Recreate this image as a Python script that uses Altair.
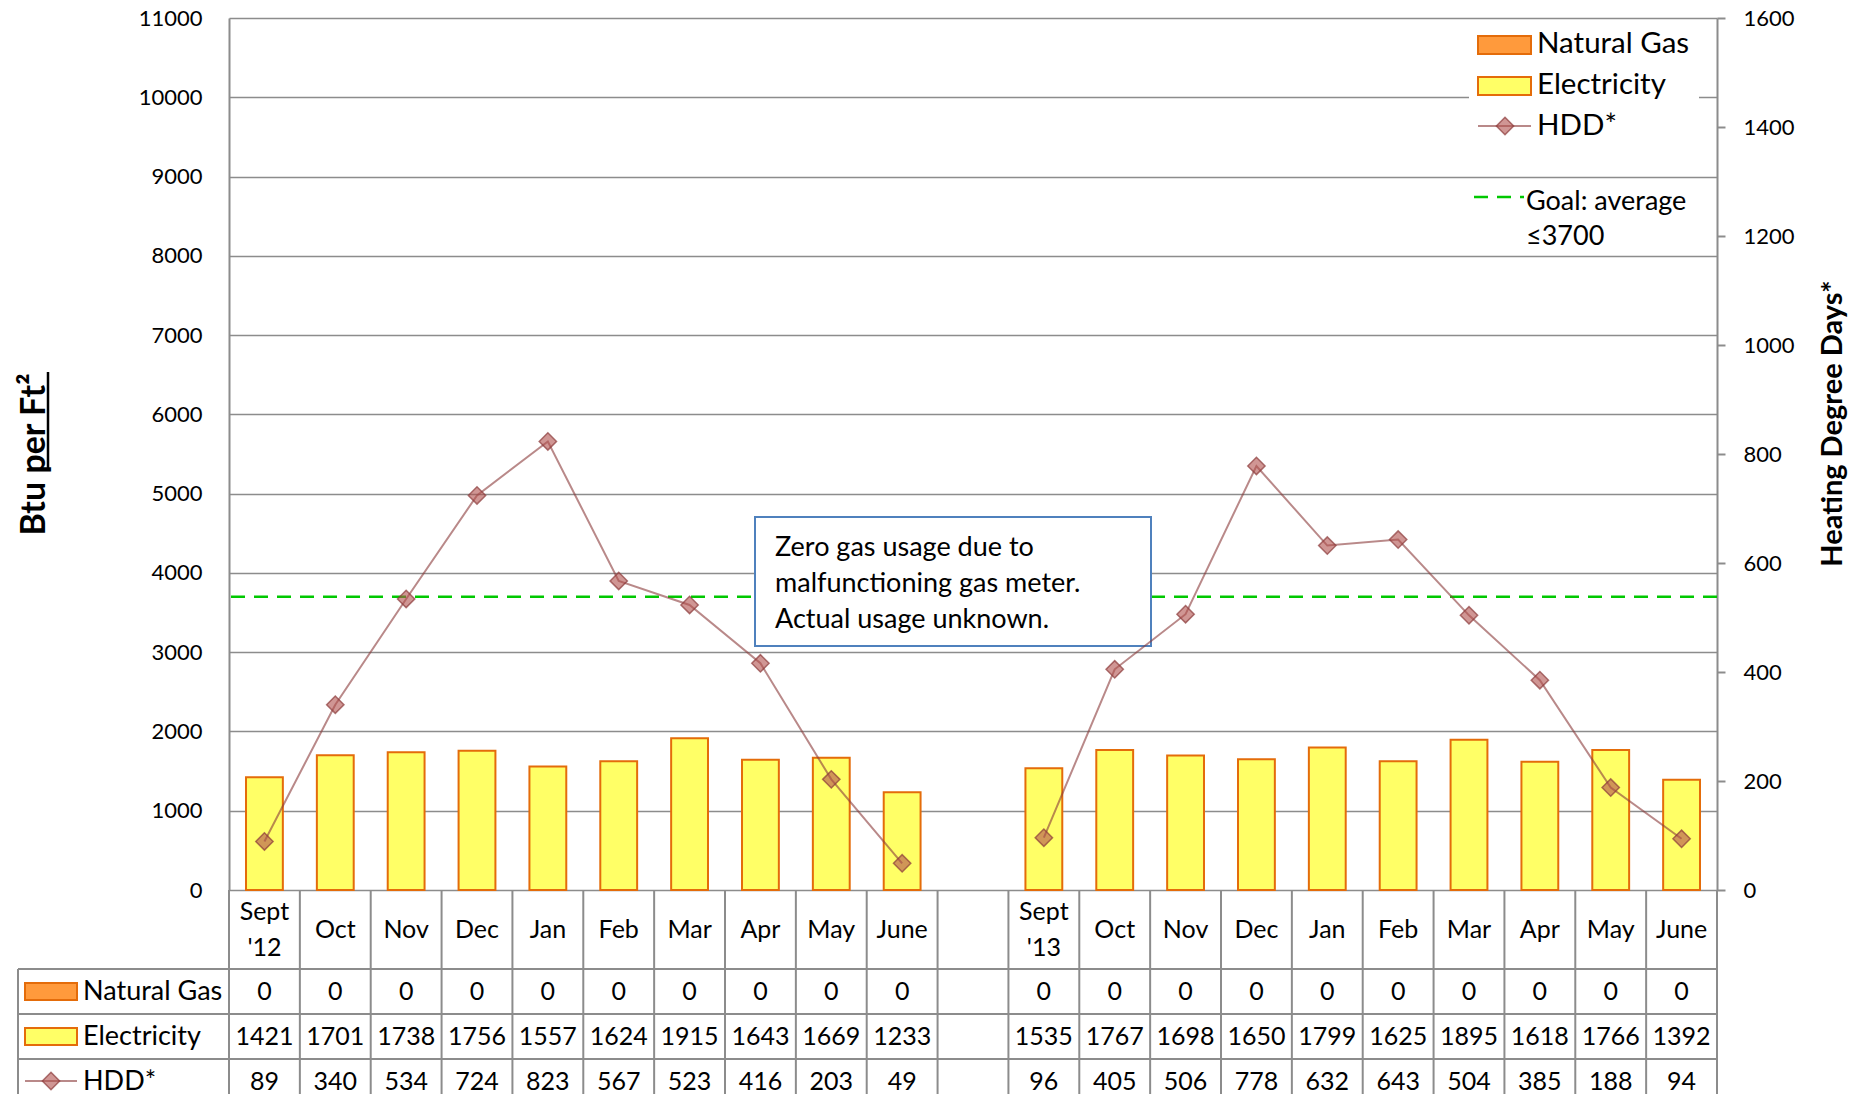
import altair as alt
import pandas as pd

# ---------------- data ----------------
labels_2012 = ["Sept\n'12", "Oct", "Nov", "Dec", "Jan", "Feb", "Mar", "Apr", "May", "June"]
labels_2013 = ["Sept\n'13", "Oct", "Nov", "Dec", "Jan", "Feb", "Mar", "Apr", "May", "June"]
gas_2012 = [0, 0, 0, 0, 0, 0, 0, 0, 0, 0]
gas_2013 = [0, 0, 0, 0, 0, 0, 0, 0, 0, 0]
elec_2012 = [1421, 1701, 1738, 1756, 1557, 1624, 1915, 1643, 1669, 1233]
elec_2013 = [1535, 1767, 1698, 1650, 1799, 1625, 1895, 1618, 1766, 1392]
hdd_2012 = [89, 340, 534, 724, 823, 567, 523, 416, 203, 49]
hdd_2013 = [96, 405, 506, 778, 632, 643, 504, 385, 188, 94]
left_ticks = [0, 1000, 2000, 3000, 4000, 5000, 6000, 7000, 8000, 9000, 10000, 11000]
right_ticks = [0, 200, 400, 600, 800, 1000, 1200, 1400, 1600]
goal_value = [3700]
series_names = ["Natural Gas", "Electricity", "HDD*"]
goal_label = "Goal: average\n≤3700"
note_text = "Zero gas usage due to\nmalfunctioning gas meter.\nActual usage unknown."
left_title = "Btu per Ft²"
right_title = "Heating Degree Days*"

# ---------------- layout / style ----------------
W, H = 1488, 872
FONT = "Lato"
GRID = "#8C8C8C"
GAS_FILL, GAS_STROKE = "#FF9A3C", "#E46C0A"
ELEC_FILL = "#FFFF66"
HDD_LINE = "#8B3A3A"
HDD_FILL = "#B0504D"
GOAL = "#00C800"
NOTE_BORDER = "#4F81BD"
BOTTOM = 1110

slots = [f"s{i:02d}" for i in range(21)]
rows = []
for i in range(10):
    rows.append(dict(slot=slots[i], label=labels_2012[i], gas=gas_2012[i],
                     elec=elec_2012[i], hdd=hdd_2012[i], season="2012-13"))
for i in range(10):
    rows.append(dict(slot=slots[11 + i], label=labels_2013[i], gas=gas_2013[i],
                     elec=elec_2013[i], hdd=hdd_2013[i], season="2013-14"))
df = pd.DataFrame(rows)
parts = df["label"].str.split("\n")
df["single"] = [p[0] if len(p) == 1 else "" for p in parts]
df["first"] = [p[0] if len(p) > 1 else "" for p in parts]
df["second"] = [p[1] if len(p) > 1 else "" for p in parts]
edges = pd.DataFrame({"slot": slots})
one = pd.DataFrame({"k": [0]})

xs = alt.Scale(domain=slots, paddingInner=0, paddingOuter=0)
X = alt.X("slot:N", scale=xs, axis=None)

yl = alt.Scale(domain=[0, 11000], nice=False, zero=True)
yr = alt.Scale(domain=[0, 1600], nice=False, zero=True)

left_axis = alt.Axis(
    values=left_ticks, format="d", grid=True, gridColor=GRID, gridWidth=1.6,
    ticks=False, tickSize=0, domain=True, domainColor=GRID, domainWidth=2,
    labelFont=FONT, labelFontSize=22, labelColor="black", labelPadding=27,
    labelFlush=False,
    title=left_title, titleFont=FONT, titleFontSize=34, titleFontWeight="bold",
    titleColor="black", titleAngle=270, titleX=-195, titleY=436,
    titleAlign="center", titleBaseline="middle",
)
right_axis = alt.Axis(
    orient="right", values=right_ticks, format="d", grid=False,
    ticks=True, tickSize=8, tickColor=GRID, tickWidth=2,
    domain=True, domainColor=GRID, domainWidth=2,
    labelFont=FONT, labelFontSize=22, labelColor="black", labelPadding=18,
    labelFlush=False,
    title=right_title, titleFont=FONT, titleFontSize=29, titleFontWeight="bold",
    titleColor="black", titleAngle=270, titleX=115, titleY=405,
    titleAlign="center", titleBaseline="middle",
)

bars_gas = alt.Chart(df).mark_bar(
    width=alt.RelativeBandSize(0.52), fill=GAS_FILL, stroke=GAS_STROKE, strokeWidth=2
).encode(x=X, y=alt.Y("gas:Q", scale=yl, axis=left_axis))
bars_elec = alt.Chart(df).mark_bar(
    width=alt.RelativeBandSize(0.52), fill=ELEC_FILL, stroke=GAS_STROKE, strokeWidth=2
).encode(x=X, y=alt.Y("elec:Q", scale=yl, axis=left_axis))
goal = alt.Chart(pd.DataFrame({"goal": goal_value})).mark_rule(
    color=GOAL, strokeWidth=2.5, strokeDash=[14, 9]
).encode(y=alt.Y("goal:Q", scale=yl, axis=left_axis))
left = alt.layer(bars_gas, bars_elec, goal)

# underline of "per Ft²" in the left axis title
title_underline = alt.Chart(one).mark_rule(color="black", strokeWidth=2.5).encode(
    x=alt.value(-181), y=alt.value(354), y2=alt.value(452))

note_box = alt.Chart(one).mark_rect(
    fill="white", stroke=NOTE_BORDER, strokeWidth=2
).encode(x=alt.value(526), x2=alt.value(922), y=alt.value(499), y2=alt.value(628))
note = alt.Chart(pd.DataFrame({"t": [note_text]})).mark_text(
    font=FONT, fontSize=27, align="left", baseline="alphabetic",
    lineBreak="\n", lineHeight=36, color="black"
).encode(text="t:N", x=alt.value(546), y=alt.value(538))

hdd_line = alt.Chart(df).mark_line(
    color=HDD_LINE, opacity=0.6, strokeWidth=2
).encode(x=X, y=alt.Y("hdd:Q", scale=yr, axis=right_axis), detail="season:N")
hdd_pts = alt.Chart(df).mark_point(
    shape="diamond", size=300, filled=True, fill=HDD_FILL, fillOpacity=0.6,
    stroke=HDD_LINE, strokeOpacity=0.7, strokeWidth=1.5
).encode(x=X, y=alt.Y("hdd:Q", scale=yr, axis=right_axis))
right = alt.layer(hdd_line, hdd_pts)

layers = [left, title_underline, note_box, note, right]

# ---------------- legend ----------------
layers.append(alt.Chart(one).mark_rect(fill="white").encode(
    x=alt.value(1240), x2=alt.value(1470), y=alt.value(8), y2=alt.value(112)))
layers.append(alt.Chart(one).mark_rect(fill=GAS_FILL, stroke=GAS_STROKE, strokeWidth=2).encode(
    x=alt.value(1249), x2=alt.value(1302), y=alt.value(18), y2=alt.value(36)))
layers.append(alt.Chart(one).mark_rect(fill=ELEC_FILL, stroke=GAS_STROKE, strokeWidth=2).encode(
    x=alt.value(1249), x2=alt.value(1302), y=alt.value(59), y2=alt.value(77)))
layers.append(alt.Chart(one).mark_rule(color=HDD_LINE, opacity=0.6, strokeWidth=2).encode(
    x=alt.value(1249), x2=alt.value(1302), y=alt.value(108)))
layers.append(alt.Chart(one).mark_point(
    shape="diamond", size=300, filled=True, fill=HDD_FILL, fillOpacity=0.6,
    stroke=HDD_LINE, strokeOpacity=0.7, strokeWidth=1.5).encode(
    x=alt.value(1276), y=alt.value(108)))
for name, yb in zip(series_names, [35, 76, 117]):
    layers.append(alt.Chart(pd.DataFrame({"t": [name]})).mark_text(
        font=FONT, fontSize=29.5, align="left", baseline="alphabetic", color="black"
    ).encode(text="t:N", x=alt.value(1308), y=alt.value(yb)))
layers.append(alt.Chart(one).mark_rule(color=GOAL, strokeWidth=2.5, strokeDash=[14, 9]).encode(
    x=alt.value(1245), x2=alt.value(1295), y=alt.value(179)))
layers.append(alt.Chart(pd.DataFrame({"t": [goal_label]})).mark_text(
    font=FONT, fontSize=27, align="left", baseline="alphabetic", color="black",
    lineBreak="\n", lineHeight=35).encode(text="t:N", x=alt.value(1297), y=alt.value(192)))

# ---------------- data table ----------------
row_lines = [951, 996, 1041]
row_centers = [973.5, 1018.5, 1063.5]
for yv in row_lines:
    layers.append(alt.Chart(one).mark_rule(color=GRID, strokeWidth=2).encode(
        x=alt.value(-211), x2=alt.value(W), y=alt.value(yv)))
layers.append(alt.Chart(one).mark_rule(color=GRID, strokeWidth=2).encode(
    x=alt.value(-211), y=alt.value(951), y2=alt.value(BOTTOM)))
layers.append(alt.Chart(edges).mark_rule(color=GRID, strokeWidth=2).encode(
    x=alt.X("slot:N", scale=xs, axis=None, bandPosition=0),
    y=alt.value(H), y2=alt.value(BOTTOM)))
layers.append(alt.Chart(one).mark_rule(color=GRID, strokeWidth=2).encode(
    x=alt.value(W), y=alt.value(H), y2=alt.value(BOTTOM)))

for field, yc in [("single", 912), ("first", 894), ("second", 930)]:
    layers.append(alt.Chart(df).mark_text(
        font=FONT, fontSize=25, baseline="middle", align="center", color="black"
    ).encode(x=X, text=f"{field}:N", y=alt.value(yc)))
for field, yc in zip(["gas", "elec", "hdd"], row_centers):
    layers.append(alt.Chart(df).mark_text(
        font=FONT, fontSize=25, baseline="middle", align="center", color="black"
    ).encode(x=X, text=f"{field}:Q", y=alt.value(yc)))

# row labels with symbols
layers.append(alt.Chart(one).mark_rect(fill=GAS_FILL, stroke=GAS_STROKE, strokeWidth=2).encode(
    x=alt.value(-204), x2=alt.value(-152), y=alt.value(965), y2=alt.value(982)))
layers.append(alt.Chart(one).mark_rect(fill=ELEC_FILL, stroke=GAS_STROKE, strokeWidth=2).encode(
    x=alt.value(-204), x2=alt.value(-152), y=alt.value(1010), y2=alt.value(1027)))
layers.append(alt.Chart(one).mark_rule(color=HDD_LINE, opacity=0.6, strokeWidth=2).encode(
    x=alt.value(-204), x2=alt.value(-152), y=alt.value(1063)))
layers.append(alt.Chart(one).mark_point(
    shape="diamond", size=300, filled=True, fill=HDD_FILL, fillOpacity=0.6,
    stroke=HDD_LINE, strokeOpacity=0.7, strokeWidth=1.5).encode(
    x=alt.value(-178), y=alt.value(1063)))
for name, yc in zip(series_names, row_centers):
    layers.append(alt.Chart(pd.DataFrame({"t": [name]})).mark_text(
        font=FONT, fontSize=27, align="left", baseline="middle", color="black"
    ).encode(text="t:N", x=alt.value(-146), y=alt.value(yc)))

chart = alt.layer(*layers).resolve_scale(y="independent").properties(
    width=W, height=H,
    autosize=alt.AutoSizeParams(type="none"),
    padding={"left": 221, "top": 10, "right": 135, "bottom": 204},
).configure_view(stroke=None).configure_text(font=FONT)

chart.save("out.html", embed_options={"renderer": "svg", "actions": False})
